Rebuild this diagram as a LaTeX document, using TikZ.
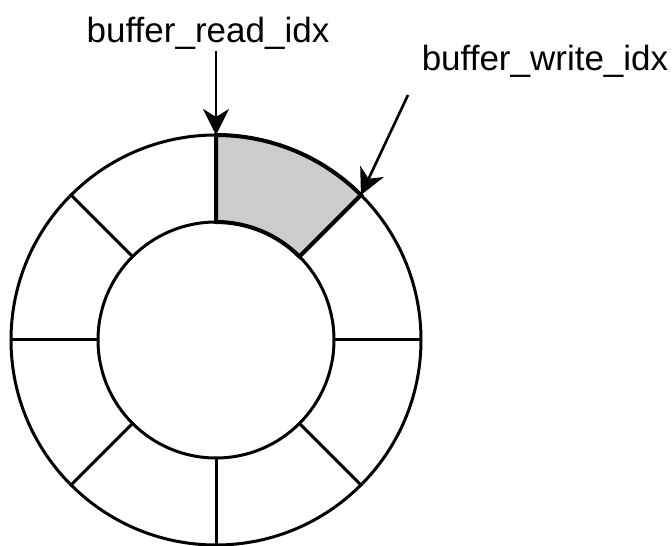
\documentclass[tikz,border=0pt]{standalone}
\usepackage{fontspec}
\setmainfont{Liberation Sans}
\usepackage{tikz}
\usetikzlibrary{arrows.meta,positioning,calc}

\begin{document}
\begin{tikzpicture}[x=1pt,y=1pt,
                    idx label/.style={font=\fontsize{35}{40}\selectfont,inner sep=0pt},
                    idx arrow/.style={-{Stealth[length=26pt,width=26pt,inset=8pt]},line width=2.6pt},
                    slot line/.style={line width=3pt},
                    used slot/.style={fill=black!20,draw,line width=4pt}]
  \useasboundingbox (0,0) rectangle (672,546);
  \coordinate (c) at (216,206);

  % filled slot between read and write index
  \filldraw[used slot] (c) ++(90:118) arc (90:45:118) -- ++(45:87) arc (45:90:205) -- cycle;

  % ring
  \draw[slot line] (c) circle (205);
  \draw[slot line] (c) circle (118);
  \foreach \a in {0,45,...,315}
    \draw[slot line] (c) ++(\a:118) -- ++(\a:87);

  \coordinate (read) at ($(c)+(90:205)$);
  \coordinate (write) at ($(c)+(45:205)$);

  \node[idx label] (rl) at (208,513) {buffer\_read\_idx};
  \node[idx label] (wl) at (545,485) {buffer\_write\_idx};
  \coordinate (rs) at (216,495);
  \coordinate (ws) at (408,451);

  \draw[idx arrow] (rs) -- (read);
  \draw[idx arrow] (ws) -- (write);
\end{tikzpicture}
\end{document}
